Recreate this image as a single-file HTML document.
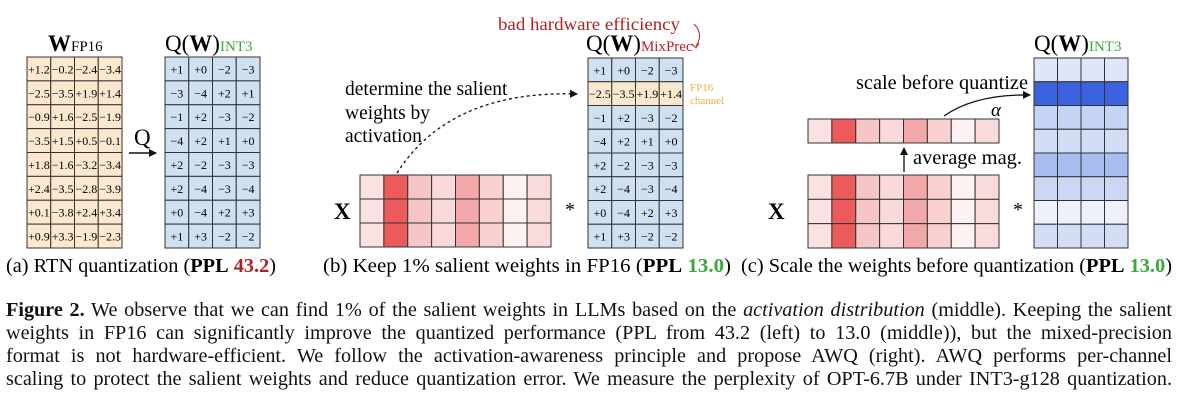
<!DOCTYPE html>
<html><head><meta charset="utf-8"><style>
body{margin:0;background:#fff;width:1182px;height:402px;overflow:hidden;font-family:"Liberation Serif",serif;}
#fig{position:absolute;left:0;top:0}
#fig text{font-family:"Liberation Serif",serif;}
.cap{position:absolute;left:6px;width:1166px;font-size:20.2px;line-height:23px;text-align:justify;text-align-last:justify;white-space:nowrap;color:#111}
</style></head><body>
<svg id="fig" width="1182" height="300">
<defs><marker id="ah" markerWidth="8" markerHeight="8" refX="7" refY="4" orient="auto" markerUnits="userSpaceOnUse"><path d="M0,0 L8,4 L0,8 z" fill="#111"/></marker></defs>
<g id="g"></g>
<!-- panel a -->
<text x="48" y="51" font-size="23" font-weight="bold">W<tspan font-size="15" font-weight="normal">FP16</tspan></text>
<text x="165" y="51" font-size="23">Q(<tspan font-weight="bold">W</tspan>)<tspan font-size="15" fill="#3aa83a">INT3</tspan></text>
<text x="134" y="145" font-size="23">Q</text>
<line x1="129" y1="153" x2="156" y2="153" stroke="#111" stroke-width="1.5" marker-end="url(#ah)"/>
<text x="6" y="272" font-size="20.5" textLength="270" lengthAdjust="spacingAndGlyphs">(a) RTN quantization (<tspan font-weight="bold">PPL</tspan> <tspan font-weight="bold" fill="#b22222">43.2</tspan>)</text>
<!-- panel b -->
<text x="498" y="30" font-size="18" fill="#b22222" textLength="182" lengthAdjust="spacingAndGlyphs">bad hardware efficiency</text>
<path d="M694,24 Q704,34 696,46" fill="none" stroke="#b22222" stroke-width="1"/>
<path d="M692,44 L696,48 L699,43" fill="none" stroke="#b22222" stroke-width="1"/>
<text x="586" y="51" font-size="23">Q(<tspan font-weight="bold">W</tspan>)<tspan font-size="15" fill="#b22222">MixPrec</tspan></text>
<text x="690" y="91" font-size="11" fill="#e8b040">FP16</text>
<text x="690" y="104" font-size="11" fill="#e8b040">channel</text>
<text font-size="19.5"><tspan x="345" y="95">determine the salient</tspan><tspan x="345" y="119">weights by</tspan><tspan x="345" y="142">activation</tspan></text>
<path d="M397,173 Q450,90 577,94" fill="none" stroke="#111" stroke-width="1.3" stroke-dasharray="3,3" marker-end="url(#ah)"/>
<text x="334" y="219" font-size="23" font-weight="bold">X</text>
<text x="565" y="216" font-size="20">*</text>
<text x="323" y="272" font-size="20.5" textLength="408" lengthAdjust="spacingAndGlyphs">(b) Keep 1% salient weights in FP16 (<tspan font-weight="bold">PPL</tspan> <tspan font-weight="bold" fill="#3aa83a">13.0</tspan>)</text>
<!-- panel c -->
<text x="1034" y="51" font-size="23">Q(<tspan font-weight="bold">W</tspan>)<tspan font-size="15" fill="#3aa83a">INT3</tspan></text>
<text x="856" y="89" font-size="19.5" textLength="172" lengthAdjust="spacingAndGlyphs">scale before quantize</text>
<path d="M944,116 Q975,94 1030,95" fill="none" stroke="#111" stroke-width="1.3" marker-end="url(#ah)"/>
<text x="991" y="116" font-size="19" font-style="italic">α</text>
<line x1="904" y1="172" x2="904" y2="148" stroke="#111" stroke-width="1.3" marker-end="url(#ah)"/>
<text x="913" y="164" font-size="19.5" textLength="109" lengthAdjust="spacingAndGlyphs">average mag.</text>
<text x="768" y="219" font-size="23" font-weight="bold">X</text>
<text x="1013" y="216" font-size="20">*</text>
<text x="741" y="272" font-size="20.5" textLength="431" lengthAdjust="spacingAndGlyphs">(c) Scale the weights before quantization (<tspan font-weight="bold">PPL</tspan> <tspan font-weight="bold" fill="#3aa83a">13.0</tspan>)</text>
</svg>
<div class="cap" style="top:299px"><b>Figure 2.</b> We observe that we can find 1% of the salient weights in LLMs based on the <i>activation distribution</i> (middle). Keeping the salient</div>
<div class="cap" style="top:322px">weights in FP16 can significantly improve the quantized performance (PPL from 43.2 (left) to 13.0 (middle)), but the mixed-precision</div>
<div class="cap" style="top:345px">format is not hardware-efficient. We follow the activation-awareness principle and propose AWQ (right). AWQ performs per-channel</div>
<div class="cap" style="top:368px">scaling to protect the salient weights and reduce quantization error. We measure the perplexity of OPT-6.7B under INT3-g128 quantization.</div>
<script>
const wFP16=[["+1.2","−0.2","−2.4","−3.4"],["−2.5","−3.5","+1.9","+1.4"],["−0.9","+1.6","−2.5","−1.9"],["−3.5","+1.5","+0.5","−0.1"],["+1.8","−1.6","−3.2","−3.4"],["+2.4","−3.5","−2.8","−3.9"],["+0.1","−3.8","+2.4","+3.4"],["+0.9","+3.3","−1.9","−2.3"]];
const qInt3=[["+1","+0","−2","−3"],["−3","−4","+2","+1"],["−1","+2","−3","−2"],["−4","+2","+1","+0"],["+2","−2","−3","−3"],["+2","−4","−3","−4"],["+0","−4","+2","+3"],["+1","+3","−2","−2"]];
const actColors=["#fbe1e1","#ec5b5b","#f6c5c5","#f9d9d9","#f2a8a8","#f8d0d0","#fdf1f1","#f9dbdb"];
const scaledRowColors=["#dfe6f7","#3b63e0","#c6d4f4","#d3ddf5","#a9bdf0","#ccd7f4","#eef1fa","#d3ddf5"];
const NS="http://www.w3.org/2000/svg";
const g=document.getElementById('g');
function rect(x,y,w,h,fill){const r=document.createElementNS(NS,'rect');r.setAttribute('x',x);r.setAttribute('y',y);r.setAttribute('width',w);r.setAttribute('height',h);r.setAttribute('fill',fill);r.setAttribute('stroke','#333');r.setAttribute('stroke-width','1');g.appendChild(r);return r;}
function txt(x,y,s,fs){const t=document.createElementNS(NS,'text');t.setAttribute('x',x);t.setAttribute('y',y);t.setAttribute('font-size',fs);t.setAttribute('text-anchor','middle');t.textContent=s;g.appendChild(t);return t;}
function matrix(x0,y0,x1,y1,rows,cols,fillFn,labelFn,fs,name){
  const cw=(x1-x0)/cols,rh=(y1-y0)/rows;
  for(let r=0;r<rows;r++)for(let c=0;c<cols;c++){
    const e=rect(x0+c*cw,y0+r*rh,cw,rh,fillFn(r,c));
    
    
    const s=labelFn?labelFn(r,c):null;
    if(s){const t=txt(x0+c*cw+cw/2,y0+r*rh+rh/2+4.5,s,fs);
      
      }
  }
}
matrix(27,57,122,248,8,4,()=>'#fbe8cf',(r,c)=>wFP16[r][c],12,'w-fp16');
matrix(165,57,260,248,8,4,()=>'#cfe0f1',(r,c)=>qInt3[r][c],12,'q-int3-a');
matrix(588,58,683,248,8,4,(r)=>r===1?'#fbe8cf':'#cfe0f1',(r,c)=>r===1?wFP16[r][c]:qInt3[r][c],12,'q-mixprec');
matrix(360,175,551,247,3,8,(r,c)=>actColors[c],null,0,'activation-b');
matrix(808,119,999,143,1,8,(r,c)=>actColors[c],null,0,'alpha');
matrix(808,175,999,248,3,8,(r,c)=>actColors[c],null,0,'activation-c');
matrix(1034,58,1128,248,8,4,(r)=>scaledRowColors[r],null,0,'q-scaled');
</script>
</body></html>
